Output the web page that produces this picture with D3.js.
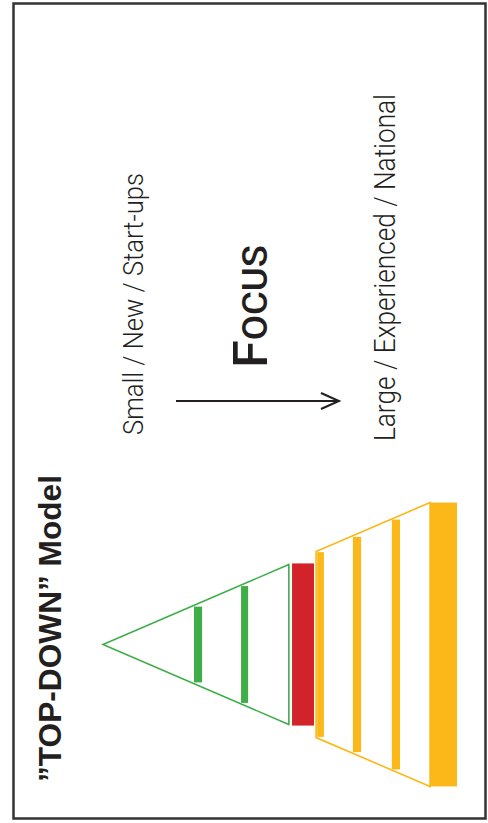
<!DOCTYPE html>
<html>
<head>
<meta charset="utf-8">
<script src="https://cdn.jsdelivr.net/npm/d3@7"></script>
<style>
  html, body { margin: 0; padding: 0; background: #fff; }
  svg { display: block; }
</style>
</head>
<body>
<script>
// ---- data (distance from cone apex along the axis, 0..100; half-heights in the same units) ----
const stageNames  = ["Start-up 1", "Start-up 2", "Focus", "Large 1", "Large 2", "Large 3", "Large 4"];
const stageGroup  = ["green", "green", "red", "yellow", "yellow", "yellow", "yellow"];
const stageStart  = [25.7, 39.0, 53.4, 60.5, 70.6, 81.6, 92.4];
const stageEnd    = [28.0, 41.0, 59.6, 62.4, 72.9, 83.9, 100.0];
const stageHalf   = [10.7, 16.5, 22.9, 26.1, 30.4, 35.3, 40.1];

const triangleEnd  = [0, 52.5];        // apex -> right edge of green triangle
const triangleHalf = [0, 22.6];
const funnelEnd    = [60.2, 92.4];     // yellow trapezoid left -> right
const funnelHalf   = [26.3, 40.1];

const titleText = "\u201DTOP-DOWN\u201D Model";
const leftLabel = "Small / New / Start-ups";
const rightLabel = "Large / Experienced / National";
const focusFirst = "F";
const focusRest = "OCUS";

// ---- drawing ----
const W = 488, H = 823;
const colors = { green: "#3fae49", red: "#d2232a", yellow: "#fbb818" };

const svg = d3.select("body").append("svg").attr("width", W).attr("height", H);

svg.append("rect")
  .attr("x", 13.5).attr("y", 3.5).attr("width", 472).attr("height", 815)
  .attr("fill", "#fff").attr("stroke", "#333").attr("stroke-width", 2.5);

const x = d3.scaleLinear().domain([0, 100]).range([103, 457]);
const y = d3.scaleLinear().domain([-50, 50]).range([644.5 + 177, 644.5 - 177]);

// green triangle outline
const tri = [
  [x(triangleEnd[0]), y(triangleHalf[0])],
  [x(triangleEnd[1]), y(triangleHalf[1])],
  [x(triangleEnd[1]), y(-triangleHalf[1])]
];
svg.append("path")
  .attr("d", d3.line()(tri) + "Z")
  .attr("fill", "none").attr("stroke", colors.green).attr("stroke-width", 1.6)
  .attr("stroke-linejoin", "miter");

// yellow trapezoid outline
const trap = [
  [x(funnelEnd[0]), y(funnelHalf[0])],
  [x(funnelEnd[1]), y(funnelHalf[1])],
  [x(funnelEnd[1]), y(-funnelHalf[1])],
  [x(funnelEnd[0]), y(-funnelHalf[0])]
];
svg.append("path")
  .attr("d", d3.line()(trap) + "Z")
  .attr("fill", "none").attr("stroke", colors.yellow).attr("stroke-width", 1.6);

// bars
const stages = stageNames.map((n, i) => ({
  name: n, group: stageGroup[i], s: stageStart[i], e: stageEnd[i], h: stageHalf[i]
}));
svg.selectAll("rect.stage").data(stages).join("rect")
  .attr("class", "stage")
  .attr("x", d => x(d.s))
  .attr("width", d => x(d.e) - x(d.s))
  .attr("y", d => y(d.h))
  .attr("height", d => y(-d.h) - y(d.h))
  .attr("fill", d => colors[d.group]);

// title
svg.append("text")
  .attr("transform", "translate(61,782) rotate(-90)")
  .attr("font-family", "Liberation Sans, Arial, sans-serif")
  .attr("font-weight", "bold")
  .attr("font-size", 32)
  .attr("fill", "#231f20")
  .attr("textLength", 307).attr("lengthAdjust", "spacingAndGlyphs")
  .text(titleText);

// left label
svg.append("text")
  .attr("transform", "translate(143,435) rotate(-90)")
  .attr("font-family", "Roboto, sans-serif")
  .attr("font-weight", 300)
  .attr("font-size", 28)
  .attr("fill", "#231f20")
  .attr("textLength", 262).attr("lengthAdjust", "spacingAndGlyphs")
  .text(leftLabel);

// right label
svg.append("text")
  .attr("transform", "translate(395,441) rotate(-90)")
  .attr("font-family", "Roboto, sans-serif")
  .attr("font-weight", 300)
  .attr("font-size", 29)
  .attr("fill", "#231f20")
  .attr("textLength", 347).attr("lengthAdjust", "spacingAndGlyphs")
  .text(rightLabel);

// Focus (small caps)
const ft = svg.append("text")
  .attr("transform", "translate(267,368) rotate(-90)")
  .attr("font-family", "Roboto, sans-serif")
  .attr("font-weight", 500)
  .attr("fill", "#231f20")
  .attr("textLength", 123).attr("lengthAdjust", "spacingAndGlyphs");
ft.append("tspan").attr("font-size", 48).text(focusFirst);
ft.append("tspan").attr("font-size", 35).text(focusRest);

// arrow
svg.append("line")
  .attr("x1", 176).attr("y1", 401).attr("x2", 338).attr("y2", 401)
  .attr("stroke", "#231f20").attr("stroke-width", 2);
svg.append("path")
  .attr("d", "M321,393 L339,401 L321,409")
  .attr("fill", "none").attr("stroke", "#231f20").attr("stroke-width", 2);
</script>
</body>
</html>
